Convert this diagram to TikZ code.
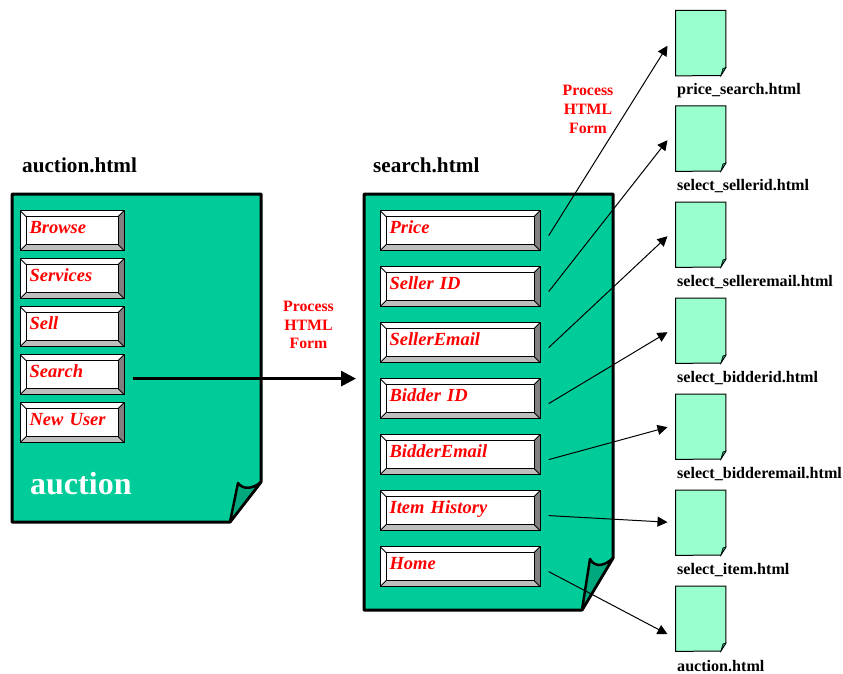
\documentclass[tikz,border=0pt]{standalone}
\usepackage{fontspec}
\setmainfont{Liberation Serif}
\usetikzlibrary{arrows.meta}
\definecolor{pagegreen}{HTML}{00CC99}
\definecolor{foldgreen}{HTML}{00A87E}
\definecolor{filegreen}{HTML}{99FFCC}
\newcommand{\filedoc}[3]{%
  \node [filedoc, anchor = north west] (#1) at (675.5,#2) {};
  \draw [fill = filegreen, line width = 1pt] (#1.north west) -- (#1.north east) -- ++(0,57)
    -- ++(-5,8) -- (#1.south west) -- cycle;
  \draw [fill = foldgreen, line width = .6pt] (#1.north east) ++(0,57) -- ++(-3,1) -- ++(-2,7) -- cycle;
  \node [filename, anchor = west] (#1 name) at (677,#2+80) {#3};}
\begin{document}
\begin{tikzpicture}[x = 1pt, y = -1pt,
    button/.style = {anchor = north west, minimum height = 40pt, inner xsep = 9.5pt,
      inner ysep = 0pt, text depth = 7pt, text height = 13pt, align = left,
      text = red, font = \fontsize{18.5}{20}\selectfont\bfseries\itshape,
      line width = 1.2pt, draw, fill = white,
      path picture = {
        \coordinate (a) at (path picture bounding box.north west);
        \coordinate (b) at (path picture bounding box.south east);
        \fill [black!50] (b) -- ([xshift = -6pt, yshift = -6pt]b)
          -- ([shift = {(-6,6)}]b |- a) -- (b |- a) -- cycle;
        \fill [black!25] (b) -- ([shift = {(-6,-6)}]b) -- ([shift = {(6,-6)}]a |- b)
          -- (a |- b) -- cycle;
        \draw [line width = .8pt] (a) -- ([shift = {(6,6)}]a);
        \draw [line width = .8pt] (b) -- ([shift = {(-6,-6)}]b);
        \draw [line width = .8pt] (a |- b) -- ([shift = {(6,-6)}]a |- b);
        \draw [line width = .8pt] (b |- a) -- ([shift = {(-6,6)}]b |- a);
        \draw [line width = 1pt] ([shift = {(6,6)}]a) rectangle ([shift = {(-6,-6)}]b);
      }},
    smallbutton/.style = {button, minimum width = 104pt, text width = 85pt},
    bigbutton/.style = {button, minimum width = 160pt, text width = 141pt},
    filedoc/.style = {minimum width = 50pt, minimum height = 65pt, inner sep = 0pt},
    filename/.style = {inner sep = 0pt, font = \fontsize{16.1}{18}\selectfont\bfseries},
    pagename/.style = {inner sep = 0pt, font = \fontsize{21.2}{22}\selectfont\bfseries},
    process/.style = {inner sep = 0pt, align = center, text = red,
      font = \fontsize{15.8}{18.7}\selectfont\bfseries},
    link/.style = {-{Triangle[length = 10pt, width = 10pt]}, line width = 1pt}]
    \useasboundingbox (0,0) rectangle (843,674);
    % left page
    \coordinate (L1) at (12,194);
    \coordinate (L2) at (261,194);
    \coordinate (L3) at (261,482);
    \coordinate (L4) at (230,522);
    \coordinate (L5) at (12,522);
    \draw [line width = 3pt, fill = pagegreen, line join = round]
    (L1) -- (L2) -- (L3) -- (L4) -- (L5) -- cycle;
    \draw [line width = 2.5pt, fill = foldgreen, line join = round] (L3)
    .. controls (253,489) and (243,490) .. (238,483) -- (L4) -- cycle;
    \node [pagename, anchor = west] (auctionname) at (22,165.5) {auction.html};
    \node [anchor = west, inner sep = 0pt, text = white,
    font = \fontsize{32}{34}\selectfont\bfseries] (auctiontitle) at (30,484) {auction};
    \node [smallbutton] (browse) at (19.5,210) {Browse};
    \node [smallbutton] (services) at (19.5,258) {Services};
    \node [smallbutton] (sell) at (19.5,306) {Sell};
    \node [smallbutton] (search) at (19.5,354) {Search};
    \node [smallbutton] (newuser) at (19.5,402) {New User};
    % right page
    \coordinate (R1) at (364,194);
    \coordinate (R2) at (613,194);
    \coordinate (R3) at (613,558);
    \coordinate (R4) at (582,610);
    \coordinate (R5) at (364,610);
    \draw [line width = 3pt, fill = pagegreen, line join = round]
    (R1) -- (R2) -- (R3) -- (R4) -- (R5) -- cycle;
    \draw [line width = 2.5pt, fill = foldgreen, line join = round] (R3)
    .. controls (605,566) and (595,568) .. (590,559) -- (R4) -- cycle;
    \node [pagename, anchor = west] (searchname) at (373,165.5) {search.html};
    \node [bigbutton] (price) at (379.5,210) {Price};
    \node [bigbutton] (sellerid) at (379.5,266) {Seller ID};
    \node [bigbutton] (selleremail) at (379.5,322) {SellerEmail};
    \node [bigbutton] (bidderid) at (379.5,378) {Bidder ID};
    \node [bigbutton] (bidderemail) at (379.5,434) {BidderEmail};
    \node [bigbutton] (itemhistory) at (379.5,490) {Item History};
    \node [bigbutton] (home) at (379.5,546) {Home};
    % files
    \filedoc{pricefile}{10.5}{price\_search.html}
    \filedoc{selleridfile}{106}{select\_sellerid.html}
    \filedoc{selleremailfile}{202}{select\_selleremail.html}
    \filedoc{bidderidfile}{298}{select\_bidderid.html}
    \filedoc{bidderemailfile}{394}{select\_bidderemail.html}
    \filedoc{itemfile}{490}{select\_item.html}
    \filedoc{auctionfile}{586}{auction.html}
    % labels
    \node [process] (processleft) at (308.5,325) {Process\\HTML\\Form};
    \node [process] (processright) at (588,109.5) {Process\\HTML\\Form};
    % arrows
    \draw [-{Triangle[length = 15pt, width = 15pt]}, line width = 3pt]
    ([shift = {(8,4)}]search.east) -- ([shift = {(-8,4)}]search.east -| R1);
    \draw [link] ([shift = {(8,5)}]price.east) -- ([shift = {(-8,2.5)}]pricefile.west);
    \draw [link] ([shift = {(8,5)}]sellerid.east) -- ([shift = {(-8,1.5)}]selleridfile.west);
    \draw [link] ([shift = {(8,5)}]selleremail.east) -- ([shift = {(-8,1.5)}]selleremailfile.west);
    \draw [link] ([shift = {(8,5)}]bidderid.east) -- ([shift = {(-8,1.5)}]bidderidfile.west);
    \draw [link] ([shift = {(8,5)}]bidderemail.east) -- ([shift = {(-8,0.5)}]bidderemailfile.west);
    \draw [link] ([shift = {(8,5)}]itemhistory.east) -- ([shift = {(-8,-0.5)}]itemfile.west);
    \draw [link] ([shift = {(8,5)}]home.east) -- ([shift = {(-8,15.5)}]auctionfile.west);
  \end{tikzpicture}
\end{document}
